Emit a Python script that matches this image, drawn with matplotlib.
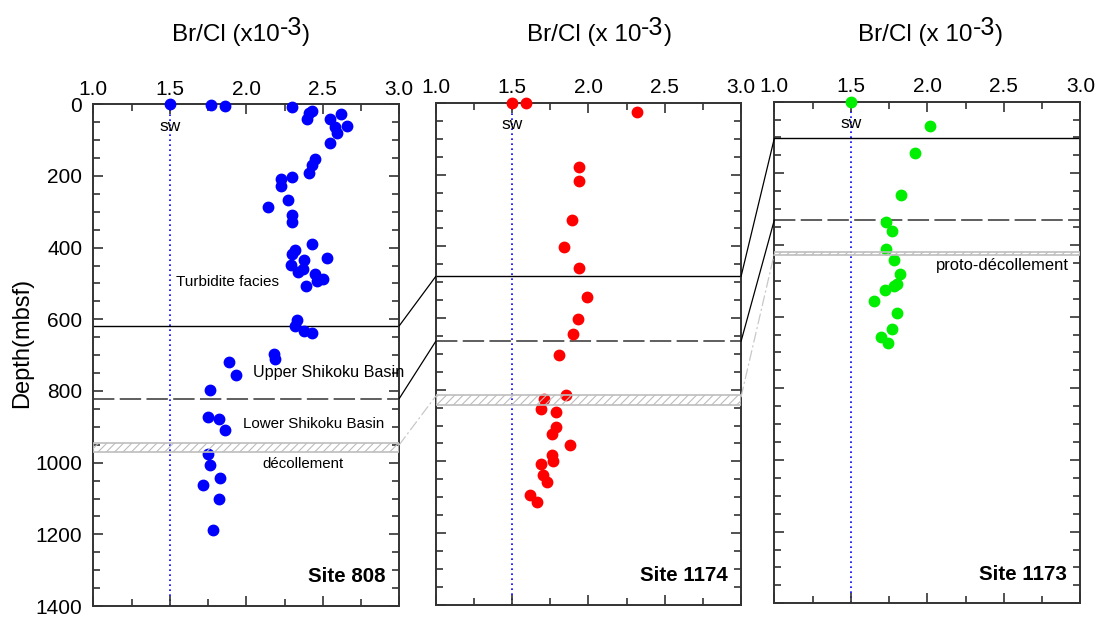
import matplotlib
matplotlib.use("Agg")
import matplotlib.pyplot as plt
from matplotlib.patches import ConnectionPatch
from matplotlib.ticker import MultipleLocator

plt.rcParams["font.family"] = ["Liberation Sans", "DejaVu Sans"]
plt.rcParams["hatch.linewidth"] = 0.8

AXIS_COLOR = "#333333"
FONT_TICK = 15
FONT_TITLE = 17.5
FIG_W, FIG_H = 1099, 618

# Br/Cl (x10^-3) against depth (mbsf) for each site
br_808 = [1.50, 1.77, 1.86, 2.30, 2.43, 2.41, 2.62, 2.40, 2.55, 2.66, 2.58, 2.59, 2.55,
          2.45, 2.43, 2.41, 2.30, 2.23, 2.23, 2.27, 2.14, 2.30, 2.30, 2.43, 2.32, 2.30,
          2.53, 2.38, 2.29, 2.37, 2.34, 2.45, 2.50, 2.46, 2.39, 2.33, 2.32, 2.38, 2.43,
          2.18, 2.19, 1.89, 1.93, 1.76, 1.75, 1.82, 1.86, 1.75, 1.76, 1.83, 1.72, 1.82,
          1.78]
depth_808 = [0, 3, 5, 8, 18, 23, 27, 42, 42, 60, 62, 79, 109,
             152, 169, 193, 203, 208, 227, 267, 286, 309, 329, 390, 406, 419,
             428, 434, 448, 459, 467, 473, 487, 493, 506, 602, 620, 632, 639,
             697, 711, 720, 756, 798, 873, 879, 908, 977, 1006, 1044, 1062, 1101,
             1187]

br_1174 = [1.50, 1.59, 2.32, 1.94, 1.94, 1.89, 1.84, 1.94, 1.99, 1.93, 1.90, 1.81, 1.85,
           1.71, 1.69, 1.79, 1.79, 1.76, 1.88, 1.76, 1.77, 1.69, 1.70, 1.73, 1.62, 1.66]
depth_1174 = [0, 1, 26, 178, 218, 326, 402, 461, 540, 604, 644, 703, 814,
              825, 855, 863, 905, 923, 953, 981, 998, 1007, 1037, 1058, 1094, 1113]

br_1173 = [1.50, 2.02, 1.92, 1.83, 1.73, 1.77, 1.73, 1.78, 1.82, 1.80, 1.78, 1.72, 1.65,
           1.80, 1.77, 1.70, 1.74]
depth_1173 = [0, 67, 143, 260, 335, 360, 411, 441, 481, 509, 515, 527, 556,
              590, 634, 658, 673]

SEAWATER = 1.5

# unit boundaries: (solid top, dashed, decollement band top, band bottom)
horizons_808 = (618, 821, 944, 970)
horizons_1174 = (484, 665, 814, 842)
horizons_1173 = (102, 330, 420, 428)


def setup_axis(ax, show_depth_labels):
    ax.set_xlim(1.0, 3.0)
    ax.set_ylim(1400, 0)
    ax.xaxis.set_major_locator(MultipleLocator(0.5))
    ax.xaxis.set_minor_locator(MultipleLocator(0.25))
    ax.yaxis.set_major_locator(MultipleLocator(200))
    ax.yaxis.set_minor_locator(MultipleLocator(50))
    ax.xaxis.set_major_formatter(lambda v, pos: f"{v:.1f}")
    ax.tick_params(which="both", direction="in", top=True, bottom=True, left=True, right=True,
                   labeltop=True, labelbottom=False, labelleft=show_depth_labels,
                   color=AXIS_COLOR, labelsize=FONT_TICK)
    ax.tick_params(which="major", length=7, width=1.2)
    ax.tick_params(which="minor", length=5, width=1.2)
    ax.tick_params(axis="x", pad=4)
    ax.tick_params(axis="y", pad=8)
    for spine in ax.spines.values():
        spine.set_color(AXIS_COLOR)
        spine.set_linewidth(1.4)


def draw_site(ax, br, depth, color, horizons, site_name, sw_depth):
    top, dashed, band_top, band_bottom = horizons
    ax.axvline(SEAWATER, color="blue", ls=(0, (1, 2)), lw=1.2, zorder=1)
    ax.plot(br, depth, "o", color=color, ms=7.5, mec=color, clip_on=False, zorder=3)
    ax.axhline(top, color="black", lw=1.0, zorder=2)
    ax.axhline(dashed, color=AXIS_COLOR, lw=1.1, dashes=(14, 3.5), zorder=2)
    ax.axhspan(band_top, band_bottom, facecolor="none", edgecolor="#bdbdbd",
               hatch="////", lw=1.2, zorder=4)
    ax.text(SEAWATER, sw_depth, "sw", ha="center", va="center", fontsize=12.5)
    ax.text(0.955, 0.058, site_name, transform=ax.transAxes, ha="right", va="center",
            fontsize=14.8, fontweight="bold")


def axis_title(ax, left_px, base_text):
    # Br/Cl label with a raised "-3" exponent
    base = fig.text(left_px / FIG_W, 1 - 41 / FIG_H, base_text, ha="left", va="baseline",
                    fontsize=FONT_TITLE)
    sup = ax.annotate("-3", xy=(1, FIG_H - 35), xycoords=(base, "figure pixels"),
                      ha="left", va="baseline", fontsize=18, annotation_clip=False)
    ax.annotate(")", xy=(1, FIG_H - 41), xycoords=(sup, "figure pixels"),
                ha="left", va="baseline", fontsize=FONT_TITLE, annotation_clip=False)


fig = plt.figure(figsize=(10.99, 6.18), dpi=100)
ax1 = fig.add_axes([0.0849, 0.0194, 0.2784, 0.8118])
ax2 = fig.add_axes([0.3965, 0.0215, 0.2778, 0.8118])
ax3 = fig.add_axes([0.7046, 0.0238, 0.2784, 0.8117])

setup_axis(ax1, True)
setup_axis(ax2, False)
setup_axis(ax3, False)

draw_site(ax1, br_808, depth_808, "#0000ff", horizons_808, "Site 808", 63)
draw_site(ax2, br_1174, depth_1174, "#ff0000", horizons_1174, "Site 1174", 59)
draw_site(ax3, br_1173, depth_1173, "#00ee00", horizons_1173, "Site 1173", 60)

# lithologic units
ax1.text(1.88, 495, "Turbidite facies", ha="center", va="center", fontsize=11)
ax1.text(2.54, 747, "Upper Shikoku Basin", ha="center", va="center", fontsize=11.6)
ax1.text(2.44, 892, "Lower Shikoku Basin", ha="center", va="center", fontsize=10.9)
ax1.text(2.37, 1003, "décollement", ha="center", va="center", fontsize=10.8)
ax3.text(2.49, 456, "proto-décollement", ha="center", va="center", fontsize=11.9)

# correlate the horizons across the three sites
pairs = [(ax1, horizons_808, ax2, horizons_1174), (ax2, horizons_1174, ax3, horizons_1173)]
for ax_a, h_a, ax_b, h_b in pairs:
    for i, style in enumerate(["-", "-", (0, (8, 3, 1, 3))]):
        color = "#c8c8c8" if i == 2 else "black"
        depth_a = h_a[i] if i < 2 else h_a[2] + 6
        depth_b = h_b[i] if i < 2 else h_b[2] + 4
        con = ConnectionPatch(xyA=(3.0, depth_a), coordsA=ax_a.transData,
                              xyB=(1.0, depth_b), coordsB=ax_b.transData,
                              color=color, lw=0.9, ls=style)
        fig.add_artist(con)

axis_title(ax1, 171.7, "Br/Cl (x10")
axis_title(ax2, 526.7, "Br/Cl (x 10")
axis_title(ax3, 858.3, "Br/Cl (x 10")
fig.text(22 / FIG_W, 1 - 343 / FIG_H, "Depth(mbsf)", rotation=90, ha="center", va="center",
         fontsize=17)

plt.savefig("out.png", dpi=100)
